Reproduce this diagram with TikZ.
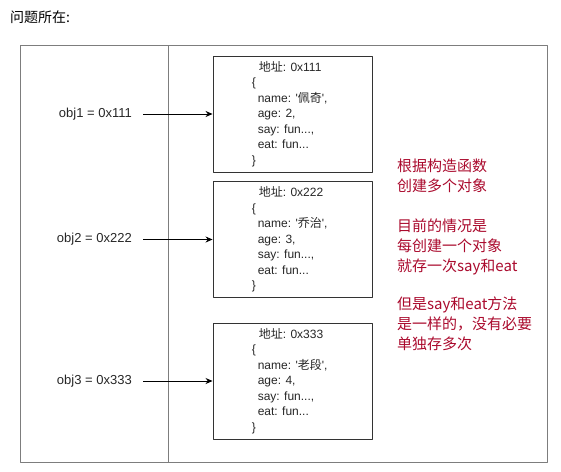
\documentclass[tikz,border=0pt]{standalone}
\usepackage{fontspec}
\setmainfont{Liberation Sans}
\newfontfamily\cjk{Noto Sans CJK SC}
\usetikzlibrary{positioning,arrows.meta}
\definecolor{noteRed}{RGB}{170,10,45}
\definecolor{frameGray}{RGB}{125,125,125}
\tikzset{
  membox/.style={draw=black!80,line width=0.9pt,minimum width=159pt,minimum height=116pt,inner sep=0pt},
  memtext/.style={align=left,inner sep=0pt,font=\fontsize{12}{15.5}\selectfont,text=black!85},
  objlabel/.style={inner sep=0pt,font=\fontsize{13}{15}\selectfont,text=black!85},
  note/.style={align=left,inner sep=0pt,text=noteRed,font=\cjk\fontsize{15}{20}\selectfont},
}
\begin{document}
\begin{tikzpicture}[x=1pt,y=-1pt,>={Stealth[length=7pt,width=6pt]},line join=round]
	\useasboundingbox (0,0) rectangle (561,471);
	\node[anchor=west,inner sep=0pt,font=\cjk\fontsize{14}{16}\selectfont] (title) at (10,17) {问题所在:};
	\draw[frameGray,line width=1pt] (20,45) rectangle (547,462) (168,45) -- (168,462);
	
	\foreach \n/\a/\y/\nm/\ag in {1/111/114/佩奇/2,2/222/239.5/乔治/3,3/333/381/老段/4}{
		\node[membox] (box\n) at (292.5,\y) {};
		\node[memtext,anchor=north west] (mem\n) at ([xshift=39pt,yshift=-5.5pt]box\n.north west)
			{\hspace*{7pt}{\cjk 地址}: 0x\a\\
			 \{\\
			 \hspace*{6pt}name: \textquotesingle{\cjk \nm}\textquotesingle,\\
			 \hspace*{6pt}age: \ag,\\
			 \hspace*{6pt}say: fun...,\\
			 \hspace*{6pt}eat: fun...\\
			 \}};
		\node[objlabel,anchor=east] (obj\n) at (132,\y) {obj\n\ = 0x\a};
		\draw[->,line width=0.8pt,shorten <=11pt] (obj\n.east) -- (box\n.west);
	}
	
	\node[note,anchor=north west] (note) at (397,159)
		{根据构造函数\\创建多个对象\\[20pt]
		 目前的情况是\\每创建一个对象\\就存一次say和eat\\[18pt]
		 但是say和eat方法\\是一样的，没有必要\\单独存多次};
\end{tikzpicture}
\end{document}
